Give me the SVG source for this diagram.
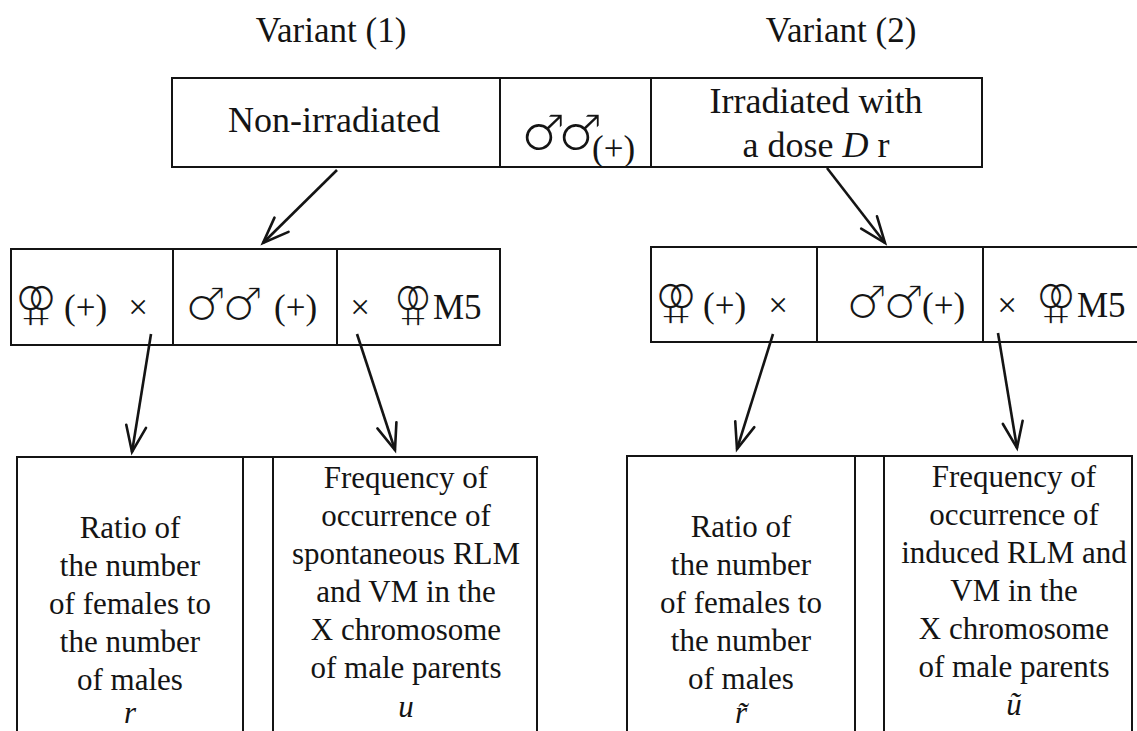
<svg xmlns="http://www.w3.org/2000/svg" width="1137" height="731" viewBox="0 0 1137 731">
<style>
.t{font-family:"Liberation Serif","Times New Roman",serif;fill:#141414;font-size:35px}
.b{font-size:31px}
.m{text-anchor:middle}
.i{font-style:italic}
.s{font-family:"DejaVu Sans",sans-serif;fill:#141414;stroke:#fff;stroke-width:1.6px;paint-order:fill stroke;font-size:46px}
.f{font-size:48px}
.box{fill:none;stroke:#141414;stroke-width:2}
.conn{fill:none;stroke:#141414;stroke-width:2.6;marker-end:url(#ah)}
</style>
<defs>
<marker id="ah" markerUnits="userSpaceOnUse" viewBox="-30 -14 34 28" refX="0" refY="0" markerWidth="34" markerHeight="28" orient="auto" overflow="visible">
<path d="M-26,-10 L0,0 L-26,10" fill="none" stroke="#141414" stroke-width="2.6" stroke-linecap="round" stroke-linejoin="miter"/>
</marker>
</defs>
<rect width="1137" height="731" fill="#fff"/>

<g id="title1"><text class="t m" x="331" y="42">Variant (1)</text></g>
<g id="title2"><text class="t m" x="841" y="42">Variant (2)</text></g>

<g id="top-box">
<rect class="box" x="172" y="78" width="810" height="89"/>
<line class="box" x1="500" y1="78" x2="500" y2="167"/>
<line class="box" x1="651" y1="78" x2="651" y2="167"/>
<text class="s" x="521" y="150" style="font-size:50px">♂</text>
<text class="s" x="558" y="150" style="font-size:50px">♂</text>
<text class="t m" x="334" y="132" style="font-size:36px">Non-irradiated</text>
<text class="t" x="592" y="160" style="font-size:35px">(+)</text>
<text class="t m" x="816" y="113" style="font-size:36px">Irradiated with</text>
<text class="t m" x="816" y="157" style="font-size:36px">a dose <tspan class="i">D</tspan> r</text>
</g>

<g id="row2-left">
<rect class="box" x="11" y="249" width="489" height="96"/>
<line class="box" x1="173" y1="249" x2="173" y2="345"/>
<line class="box" x1="337" y1="249" x2="337" y2="345"/>
<text class="s f" x="15" y="320" textLength="42" lengthAdjust="spacingAndGlyphs">⚢</text>
<text class="s" x="185" y="320">♂</text>
<text class="s" x="222" y="320">♂</text>
<text class="s f" x="394" y="320" textLength="38" lengthAdjust="spacingAndGlyphs">⚢</text>
<text class="t" x="64" y="319">(+)</text>
<text class="t m" x="138" y="319">×</text>
<text class="t" x="274" y="319">(+)</text>
<text class="t m" x="360" y="319">×</text>
<text class="t" x="433" y="319">M5</text>
</g>

<g id="row2-right">
<rect class="box" x="651" y="247" width="500" height="95"/>
<line class="box" x1="817" y1="247" x2="817" y2="342"/>
<line class="box" x1="983" y1="247" x2="983" y2="342"/>
<text class="s f" x="655" y="318" textLength="42" lengthAdjust="spacingAndGlyphs">⚢</text>
<text class="s" x="846" y="318">♂</text>
<text class="s" x="883" y="318">♂</text>
<text class="s f" x="1036" y="318" textLength="40" lengthAdjust="spacingAndGlyphs">⚢</text>
<text class="t" x="922" y="317">(+)</text>
<text class="t" x="703" y="317">(+)</text>
<text class="t m" x="778" y="317">×</text>
<text class="t m" x="1007" y="317">×</text>
<text class="t" x="1077" y="317">M5</text>
</g>

<g id="results-left">
<path class="box" d="M17,731 V457 H537 V731 M243,457 V731 M273,457 V731"/>
<g id="res-r">
<text class="t b m" x="130" y="538">Ratio of</text>
<text class="t b m" x="130" y="576">the number</text>
<text class="t b m" x="130" y="614">of females to</text>
<text class="t b m" x="130" y="652">the number</text>
<text class="t b m" x="130" y="690">of males</text>
<text class="t b m i" x="130" y="723">r</text>
</g>
<g id="res-u">
<text class="t b m" x="406" y="488">Frequency of</text>
<text class="t b m" x="406" y="526">occurrence of</text>
<text class="t b m" x="406" y="564">spontaneous RLM</text>
<text class="t b m" x="406" y="602">and VM in the</text>
<text class="t b m" x="406" y="640">X chromosome</text>
<text class="t b m" x="406" y="678">of male parents</text>
<text class="t b m i" x="406" y="717">u</text>
</g>
</g>

<g id="results-right">
<path class="box" d="M627,731 V456 H1132 V731 M855,456 V731 M884,456 V731"/>
<g id="res-r2">
<text class="t b m" x="741" y="537">Ratio of</text>
<text class="t b m" x="741" y="575">the number</text>
<text class="t b m" x="741" y="613">of females to</text>
<text class="t b m" x="741" y="651">the number</text>
<text class="t b m" x="741" y="689">of males</text>
<text class="t b m i" x="741" y="723">r̃</text>
</g>
<g id="res-u2">
<text class="t b m" x="1014" y="487">Frequency of</text>
<text class="t b m" x="1014" y="525">occurrence of</text>
<text class="t b m" x="1014" y="563">induced RLM and</text>
<text class="t b m" x="1014" y="601">VM in the</text>
<text class="t b m" x="1014" y="639">X chromosome</text>
<text class="t b m" x="1014" y="677">of male parents</text>
<text class="t b m i" x="1014" y="715">ũ</text>
</g>
</g>

<g id="connectors">
<line class="conn" x1="337" y1="170" x2="263" y2="243"/>
<line class="conn" x1="827" y1="168" x2="885" y2="243"/>
<line class="conn" x1="151" y1="334" x2="132" y2="452"/>
<line class="conn" x1="357" y1="334" x2="395" y2="450"/>
<line class="conn" x1="773" y1="334" x2="737" y2="449"/>
<line class="conn" x1="998" y1="333" x2="1017" y2="448"/>
</g>
</svg>
